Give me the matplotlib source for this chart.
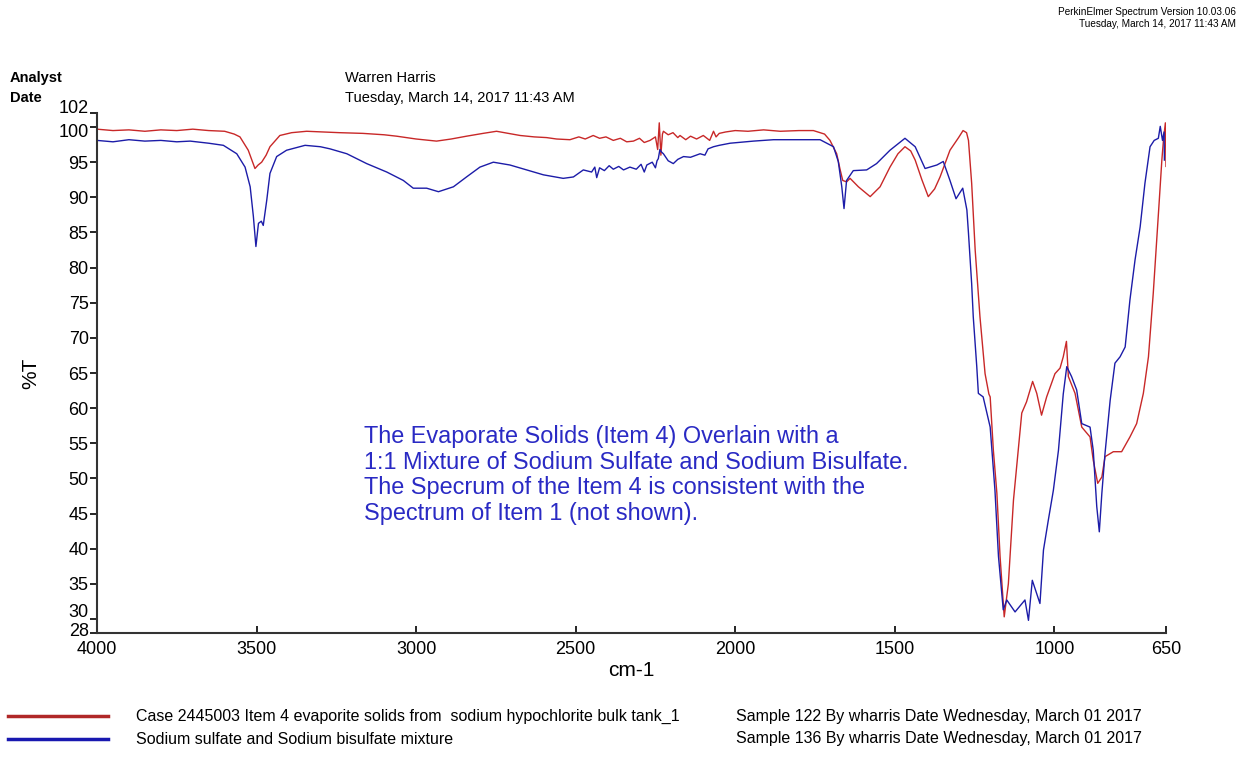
import matplotlib
matplotlib.use("Agg")
import matplotlib.pyplot as plt
from matplotlib.lines import Line2D

# wavenumber (cm-1) / %T
wn_case = [4000, 3950, 3900, 3850, 3800, 3750, 3700, 3650, 3600, 3570, 3552, 3526, 3505, 3495,
           3484, 3470, 3458, 3427, 3390, 3343, 3292, 3240, 3167, 3100, 3061, 3000, 2936, 2890,
           2842, 2790, 2748, 2710, 2674, 2630, 2591, 2560, 2518, 2490, 2470, 2445, 2425, 2405,
           2382, 2360, 2340, 2319, 2300, 2285, 2267, 2250, 2243, 2238, 2233, 2228, 2225, 2210,
           2195, 2180, 2173, 2155, 2140, 2121, 2100, 2080, 2068, 2060, 2050, 2030, 2000, 1960,
           1911, 1859, 1800, 1755, 1720, 1703, 1682, 1671, 1663, 1651, 1640, 1614, 1577, 1546,
           1515, 1490, 1468, 1450, 1436, 1415, 1395, 1375, 1358, 1327, 1300, 1286, 1275, 1269,
           1259, 1248, 1233, 1217, 1205, 1201, 1191, 1180, 1170, 1157, 1144, 1128, 1113, 1102,
           1087, 1068, 1055, 1040, 1024, 998, 982, 972, 962, 956, 935, 914, 888, 878, 864, 851,
           841, 815, 789, 763, 742, 721, 705, 690, 679, 671, 663, 658, 652, 650]
t_case = [99.7, 99.5, 99.6, 99.4, 99.6, 99.5, 99.7, 99.5, 99.4, 99.0, 98.6, 96.7, 94.1, 94.6,
          95.0, 96.0, 97.2, 98.8, 99.2, 99.4, 99.3, 99.2, 99.1, 98.9, 98.7, 98.3, 98.0, 98.3,
          98.7, 99.1, 99.4, 99.1, 98.8, 98.6, 98.5, 98.3, 98.2, 98.6, 98.3, 98.8, 98.4, 98.6,
          98.1, 98.4, 97.9, 98.0, 98.4, 97.8, 98.1, 98.6, 96.8, 100.6, 96.0, 99.0, 99.4, 98.9,
          99.2, 98.5, 98.8, 98.2, 98.7, 98.3, 98.8, 98.1, 99.4, 98.6, 99.1, 99.3, 99.5, 99.4,
          99.6, 99.4, 99.5, 99.5, 99.0, 98.1, 96.2, 93.9, 92.4, 92.2, 92.7, 91.5, 90.1, 91.5,
          94.3, 96.2, 97.2, 96.6, 95.3, 92.5, 90.1, 91.2, 92.9, 96.7, 98.5, 99.5, 99.2, 98.1,
          92.0, 82.5, 73.0, 64.9, 62.0, 61.6, 54.0, 47.9, 38.9, 30.3, 35.0, 46.9, 54.0, 59.3,
          60.9, 63.8, 62.1, 59.0, 61.6, 64.9, 65.7, 67.3, 69.5, 64.5, 62.1, 57.3, 55.9, 52.6,
          49.3, 50.2, 53.1, 53.8, 53.8, 55.9, 57.8, 62.1, 67.3, 76.3, 83.9, 89.6, 95.3, 98.1,
          100.6, 94.4]

wn_mix = [4000, 3950, 3900, 3850, 3800, 3750, 3708, 3650, 3604, 3562, 3536, 3520, 3510, 3502,
          3494, 3485, 3479, 3468, 3458, 3437, 3406, 3348, 3300, 3270, 3217, 3155, 3092, 3040,
          3009, 2967, 2930, 2883, 2842, 2800, 2758, 2706, 2654, 2601, 2539, 2507, 2476, 2450,
          2440, 2434, 2425, 2410, 2395, 2382, 2365, 2350, 2330, 2310, 2295, 2285, 2277, 2260,
          2250, 2245, 2241, 2236, 2230, 2225, 2210, 2194, 2180, 2162, 2140, 2110, 2095, 2085,
          2068, 2050, 2016, 1943, 1880, 1828, 1797, 1734, 1692, 1677, 1666, 1659, 1651, 1630,
          1588, 1557, 1515, 1468, 1436, 1405, 1368, 1348, 1327, 1308, 1287, 1274, 1269, 1259,
          1254, 1243, 1238, 1223, 1201, 1186, 1175, 1160, 1149, 1123, 1092, 1081, 1069, 1045,
          1034, 1019, 1003, 987, 972, 961, 946, 930, 914, 888, 878, 867, 859, 851, 841, 825,
          810, 794, 778, 763, 747, 731, 716, 700, 687, 674, 668, 661, 656, 655]
t_mix = [98.1, 97.9, 98.2, 98.0, 98.1, 97.9, 98.0, 97.7, 97.4, 96.2, 94.3, 91.5, 87.3, 83.0,
         86.3, 86.6, 86.0, 89.6, 93.4, 95.8, 96.7, 97.4, 97.2, 96.9, 96.2, 94.8, 93.6, 92.4,
         91.3, 91.3, 90.8, 91.5, 92.9, 94.3, 95.0, 94.6, 93.9, 93.2, 92.7, 92.9, 93.9, 93.6,
         94.3, 92.8, 94.2, 93.8, 94.5, 94.0, 94.4, 93.9, 94.3, 94.0, 94.7, 93.6, 94.6, 95.0,
         94.2, 95.2, 95.5, 96.8, 96.4, 96.2, 95.2, 94.8, 95.4, 95.8, 95.7, 96.2, 96.0, 96.9,
         97.2, 97.4, 97.7, 98.0, 98.2, 98.2, 98.2, 98.2, 97.2, 95.1, 91.5, 88.4, 92.4, 93.8,
         93.9, 94.8, 96.7, 98.4, 97.2, 94.1, 94.6, 95.1, 92.4, 89.8, 91.3, 88.2, 84.9, 77.7,
         73.0, 65.9, 62.1, 61.6, 57.3, 48.3, 38.9, 31.3, 32.7, 31.0, 32.7, 29.8, 35.5, 32.2,
         39.8, 44.0, 48.3, 54.0, 62.0, 65.9, 64.5, 62.6, 57.8, 57.3, 54.0, 46.0, 42.4, 47.9,
         53.6, 61.1, 66.4, 67.3, 68.7, 75.4, 81.1, 85.8, 92.0, 97.2, 98.1, 98.4, 100.1, 98.1,
         99.3, 95.3]

x_ticks = [4000, 3500, 3000, 2500, 2000, 1500, 1000, 650]
y_ticks = [28, 30, 35, 40, 45, 50, 55, 60, 65, 70, 75, 80, 85, 90, 95, 100, 102]
# crowded end labels are nudged (points) like the instrument printout does
y_nudge = {28: 1, 30: 5, 100: -4, 102: 3}

red = '#c82828'
blue = '#1c1ca8'
narrow = ['Liberation Sans Narrow', 'Liberation Sans', 'DejaVu Sans']
plt.rcParams['font.family'] = ['Liberation Sans', 'DejaVu Sans']

fig = plt.figure(figsize=(12.45, 7.57), dpi=100)
ax = fig.add_axes([97 / 1245, 1 - 633 / 757, 1069 / 1245, 520 / 757])

ax.plot(wn_case, t_case, color=red, lw=1.0)
ax.plot(wn_mix, t_mix, color=blue, lw=1.0)

ax.set_xlim(4000, 650)
ax.set_ylim(28, 102)
ax.set_xticks(x_ticks)
ax.set_yticks(y_ticks)
ax.set_yticklabels(['' if v in y_nudge else str(v) for v in y_ticks])
for v, dy in y_nudge.items():
    ax.annotate(str(v), xy=(0, v), xycoords=('axes fraction', 'data'),
                xytext=(-6, dy), textcoords='offset points',
                ha='right', va='center', fontsize=13)
ax.tick_params(axis='x', direction='in', length=5, width=1.2, labelsize=13, pad=6)
ax.tick_params(axis='y', direction='out', length=5, width=1.2, labelsize=13, pad=1)
for s in ['top', 'right']:
    ax.spines[s].set_visible(False)
for s in ['left', 'bottom']:
    ax.spines[s].set_linewidth(1.5)
    ax.spines[s].set_color('#333333')
ax.set_xlabel('cm-1', fontsize=15, labelpad=2)
ax.set_ylabel('%T', fontsize=15, labelpad=20)

fig.text(364 / 1245, 1 - 425 / 757,
         'The Evaporate Solids (Item 4) Overlain with a\n'
         '1:1 Mixture of Sodium Sulfate and Sodium Bisulfate.\n'
         'The Specrum of the Item 4 is consistent with the\n'
         'Spectrum of Item 1 (not shown).',
         fontsize=16.9, color='#2a2ac4', va='top', ha='left', linespacing=1.15)

# header
fig.text(10 / 1245, 1 - 78 / 757, 'Analyst', fontsize=10.5, fontweight='bold', family=narrow, va='center')
fig.text(10 / 1245, 1 - 98 / 757, 'Date', fontsize=10.5, fontweight='bold', family=narrow, va='center')
fig.text(345 / 1245, 1 - 78 / 757, 'Warren Harris', fontsize=10.5, family=narrow, va='center')
fig.text(345 / 1245, 1 - 98 / 757, 'Tuesday, March 14, 2017 11:43 AM', fontsize=10.5, family=narrow, va='center')
fig.text(1236 / 1245, 1 - 12 / 757, 'PerkinElmer Spectrum Version 10.03.06', fontsize=7.2,
         family=narrow, ha='right', va='center')
fig.text(1236 / 1245, 1 - 24 / 757, 'Tuesday, March 14, 2017 11:43 AM', fontsize=7.2,
         family=narrow, ha='right', va='center')

# legend rows
fig.add_artist(Line2D([8 / 1245, 108 / 1245], [1 - 716 / 757] * 2, color='#b02828', lw=2.5))
fig.add_artist(Line2D([8 / 1245, 108 / 1245], [1 - 739 / 757] * 2, color='#1818b0', lw=2.5))
fig.text(136 / 1245, 1 - 716 / 757,
         'Case 2445003 Item 4 evaporite solids from  sodium hypochlorite bulk tank_1',
         fontsize=11.5, family=narrow, va='center')
fig.text(136 / 1245, 1 - 739 / 757, 'Sodium sulfate and Sodium bisulfate mixture',
         fontsize=11.5, family=narrow, va='center')
fig.text(736 / 1245, 1 - 716 / 757, 'Sample 122 By wharris Date Wednesday, March 01 2017',
         fontsize=11.5, family=narrow, va='center')
fig.text(736 / 1245, 1 - 739 / 757, 'Sample 136 By wharris Date Wednesday, March 01 2017',
         fontsize=11.5, family=narrow, va='center')

fig.savefig('out.png', dpi=100)
